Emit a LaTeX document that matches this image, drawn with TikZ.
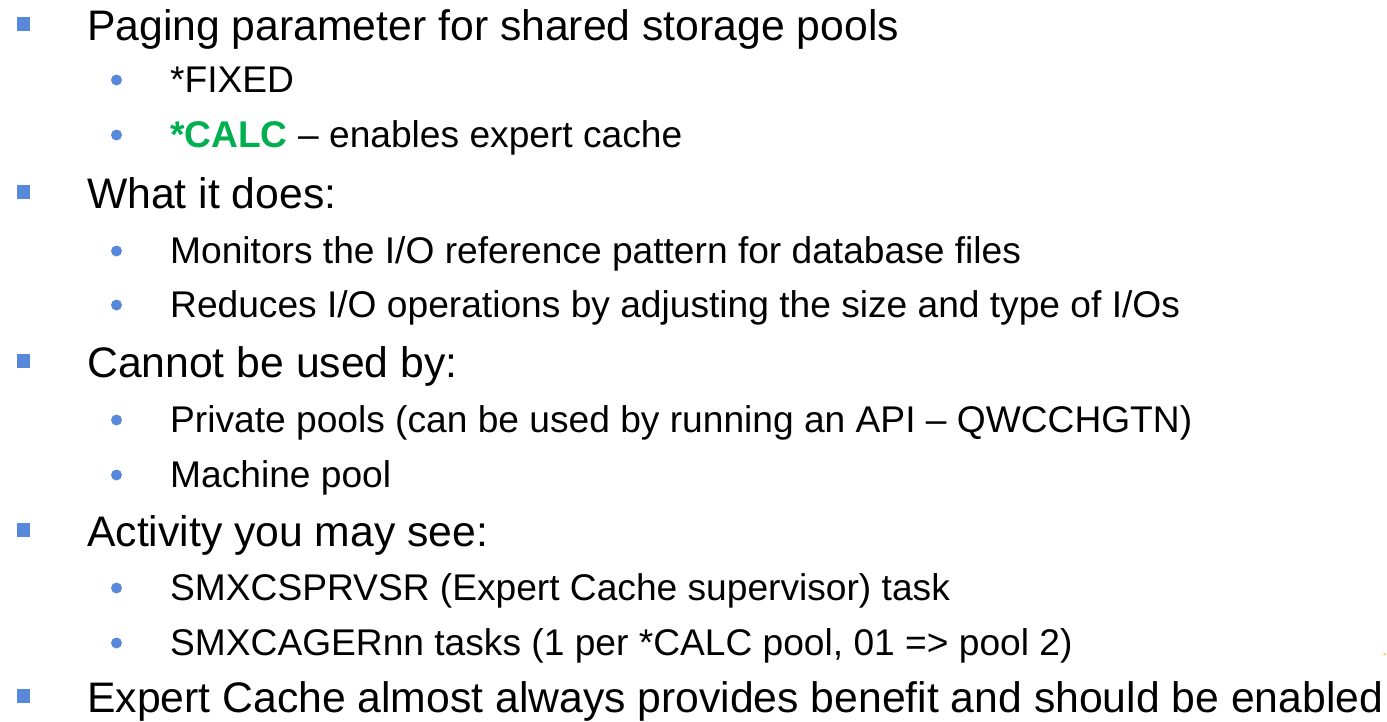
\documentclass[tikz,border=0pt]{standalone}
\usepackage{fontspec}
\setmainfont{Liberation Sans}
\definecolor{bulblue}{RGB}{88,136,218}
\definecolor{calcgreen}{RGB}{0,176,80}
\definecolor{marky}{RGB}{255,192,0}
\begin{document}
\begin{tikzpicture}[x=1pt,y=-1pt,
  lone/.style={anchor=base west,inner sep=0pt,font=\fontsize{42.7}{46}\selectfont},
  ltwo/.style={anchor=base west,inner sep=0pt,font=\fontsize{37.15}{40}\selectfont},
  sq/.style={fill=bulblue,draw=none,minimum size=13.5pt,inner sep=0pt},
  dot/.style={circle,fill=bulblue,draw=none,minimum size=11pt,inner sep=0pt}]
\useasboundingbox (0,0) rectangle (1387,721);
% level 1
\node[sq] (s1) at (23.5,24) {};
\node[lone] (t1) at (87,40) {Paging parameter for shared storage pools};
\node[ltwo] (t1a) at (170,92) {*FIXED};
\node[dot] (d1a) at (116.5,80) {};
\node[ltwo] (t1b) at (170,147) {{\color{calcgreen}\bfseries *CALC} – enables expert cache};
\node[dot] (d1b) at (116.5,135) {};
\node[sq] (s2) at (23.5,192) {};
\node[lone] (t2) at (87,208) {What it does:};
\node[dot] (d2a) at (116.5,251) {};
\node[ltwo] (t2a) at (170,263) {Monitors the I/O reference pattern for database files};
\node[dot] (d2b) at (116.5,305) {};
\node[ltwo] (t2b) at (170,317) {Reduces I/O operations by adjusting the size and type of I/Os};
\node[sq] (s3) at (23.5,361) {};
\node[lone] (t3) at (87,377) {Cannot be used by:};
\node[dot] (d3a) at (116.5,420) {};
\node[ltwo] (t3a) at (170,432) {Private pools (can be used by running an API – QWCCHGTN)};
\node[dot] (d3b) at (116.5,475) {};
\node[ltwo] (t3b) at (170,487) {Machine pool};
\node[sq] (s4) at (23.5,530) {};
\node[lone] (t4) at (87,546) {Activity you may see:};
\node[dot] (d4a) at (116.5,588) {};
\node[ltwo] (t4a) at (170,600) {SMXCSPRVSR (Expert Cache supervisor) task};
\node[dot] (d4b) at (116.5,643) {};
\node[ltwo] (t4b) at (170,655) {SMXCAGERnn tasks (1 per *CALC pool, 01 => pool 2)};
\node[sq] (s5) at (23.5,696) {};
\node[lone] (t5) at (87,712) {Expert Cache almost always provides benefit and should be enabled};
\coordinate (ya) at (1383.5,653.5);
\coordinate (yb) at (1386,655);
\draw[marky,line width=1pt] (ya) -- (yb);
\end{tikzpicture}
\end{document}
